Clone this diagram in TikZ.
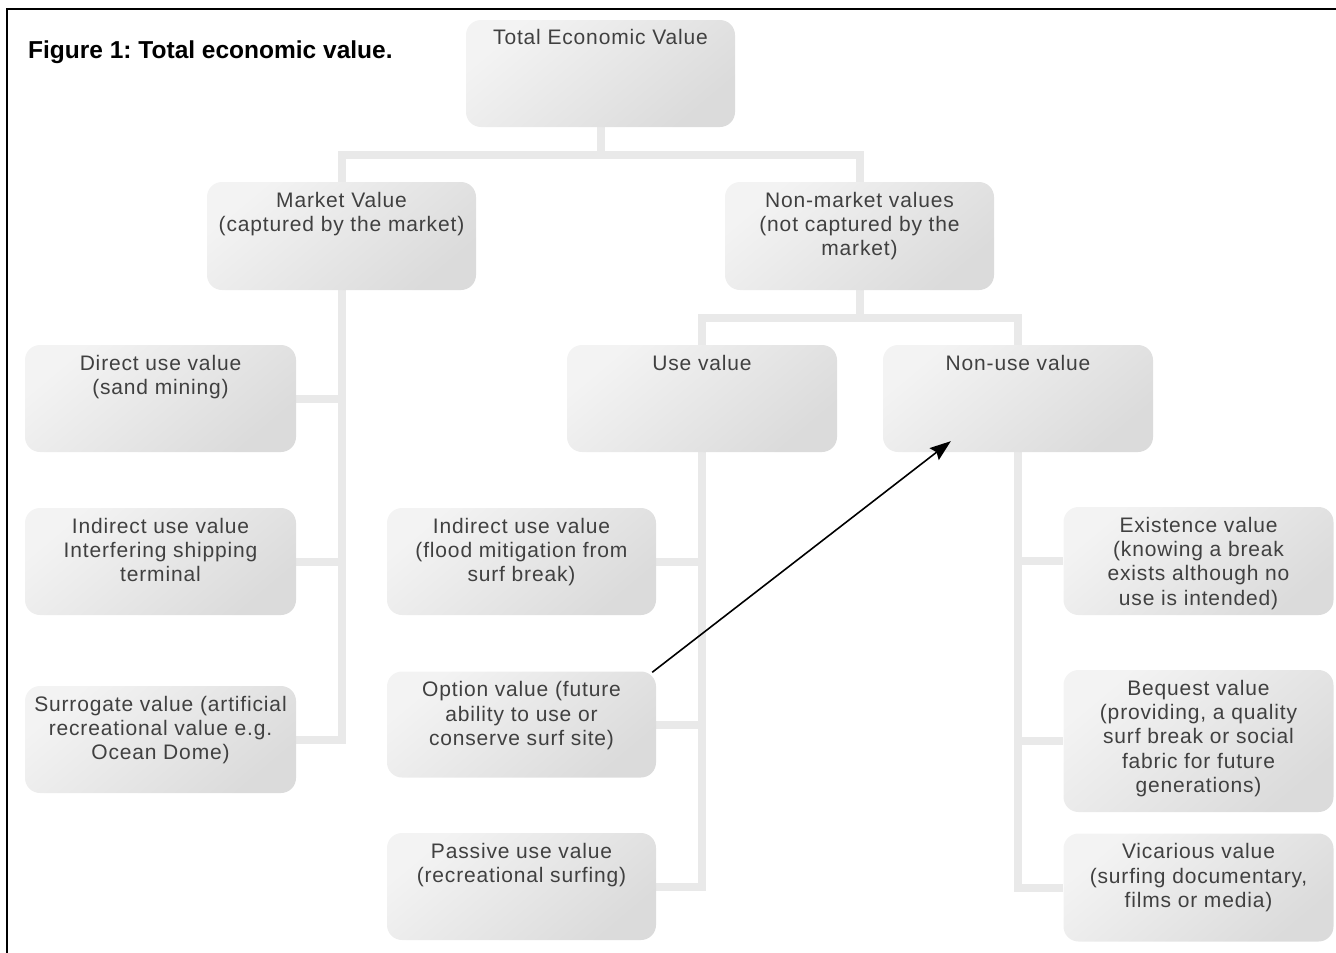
\documentclass[tikz,border=0pt]{standalone}
\usepackage{fontspec}
\setmainfont{Liberation Sans}
\newfontfamily\boxfont[LetterSpace=4]{Liberation Sans}
\usetikzlibrary{backgrounds,calc,arrows.meta}
\definecolor{txtgray}{HTML}{404040}
\definecolor{linegray}{HTML}{E9E9E9}
\definecolor{boxlight}{HTML}{F3F3F3}
\definecolor{boxdark}{HTML}{DBDBDB}
\tikzset{
  box/.style={rectangle, rounded corners=15pt, draw=none,
    top color=boxlight, bottom color=boxdark, shading angle=40,
    minimum width=#1, inner sep=0pt},
  box/.default=270pt,
  boxtext/.style={anchor=north, align=center, inner sep=0pt, text=txtgray,
    font=\boxfont\fontsize{21}{24.3}\selectfont, yshift=-10pt},
  tree/.style={draw=linegray, line width=8pt, line join=miter},
  arr/.style={-{Stealth[length=21pt,width=15pt,inset=3pt]}, line width=1.6pt, black}
}
\frenchspacing
\begin{document}
\begin{tikzpicture}[x=1pt,y=1pt]
\useasboundingbox (0,0) rectangle (1336,-953);
% frame
\draw[line width=2pt] (7,-953) -- (7,-8.5) -- (1336,-8.5);
% title
\node[anchor=west, inner sep=0pt, font=\bfseries\fontsize{24.5}{28}\selectfont] (title) at (28,-52) {Figure 1: Total economic value.};

% boxes
\node[box=269pt, minimum height=107pt] (tev) at (600.5,-73.5) {};
\node[boxtext, yshift=1pt] (tevt) at (tev.north) {Total Economic Value};

\node[box=269pt, minimum height=108pt] (mv) at (341.5,-236) {};
\node[boxtext] (mvt) at (mv.north) {Market Value\\(captured by the market)};

\node[box=269pt, minimum height=108pt] (nmv) at (859.5,-236) {};
\node[boxtext] (nmvt) at (nmv.north) {Non-market values\\(not captured by the\\market)};

\node[box=271pt, minimum height=107pt] (dir) at (160.5,-398.5) {};
\node[boxtext] (dirt) at (dir.north) {Direct use value\\(sand mining)};

\node[box=271pt, minimum height=107pt] (indA) at (160.5,-561.5) {};
\node[boxtext] (indAt) at (indA.north) {Indirect use value\\Interfering shipping\\terminal};

\node[box=271pt, minimum height=107pt] (sur) at (160.5,-739.5) {};
\node[boxtext] (surt) at (sur.north) {Surrogate value (artificial\\recreational value e.g.\\Ocean Dome)};

\node[box=270pt, minimum height=107pt] (use) at (702,-398.5) {};
\node[boxtext] (uset) at (use.north) {Use value};

\node[box=270pt, minimum height=107pt] (nonuse) at (1018,-398.5) {};
\node[boxtext] (nonuset) at (nonuse.north) {Non-use value};

\node[box=269pt, minimum height=107pt] (indB) at (521.5,-561.5) {};
\node[boxtext] (indBt) at (indB.north) {Indirect use value\\(flood mitigation from\\surf break)};

\node[box=269pt, minimum height=106pt] (opt) at (521.5,-724.5) {};
\node[boxtext] (optt) at (opt.north) {Option value (future\\ability to use or\\conserve surf site)};

\node[box=269pt, minimum height=107pt] (pas) at (521.5,-886.5) {};
\node[boxtext] (past) at (pas.north) {Passive use value\\(recreational surfing)};

\node[box=270pt, minimum height=108pt] (exi) at (1198.5,-561) {};
\node[boxtext] (exit) at (exi.north) {Existence value\\(knowing a break\\exists although no\\use is intended)};

\node[box=270pt, minimum height=142pt] (beq) at (1198.5,-741) {};
\node[boxtext] (beqt) at (beq.north) {Bequest value\\(providing, a quality\\surf break or social\\fabric for future\\generations)};

\node[box=270pt, minimum height=108pt] (vic) at (1198.5,-887.5) {};
\node[boxtext] (vict) at (vic.north) {Vicarious value\\(surfing documentary,\\films or media)};

% tree connectors
\begin{scope}[on background layer]
  \coordinate (j1) at ($(tev.south)+(0,-28)$);
  \draw[tree] (tev.south) -- (j1) -| (mv.north);
  \draw[tree] (j1) -| (nmv.north);

  \draw[tree] (mv.south) |- (sur.east);
  \draw[tree] (mv.south |- dir.east) -- (dir.east);
  \draw[tree] (mv.south |- indA.east) -- (indA.east);

  \coordinate (j2) at ($(nmv.south)+(0,-28)$);
  \draw[tree] (nmv.south) -- (j2) -| (use.north);
  \draw[tree] (j2) -| (nonuse.north);

  \draw[tree] (use.south) |- (pas.east);
  \draw[tree] (use.south |- indB.east) -- (indB.east);
  \draw[tree] (use.south |- opt.east) -- (opt.east);

  \draw[tree] (nonuse.south) |- (vic.west);
  \draw[tree] (nonuse.south |- exi.west) -- (exi.west);
  \draw[tree] (nonuse.south |- beq.west) -- (beq.west);
\end{scope}

% arrow
\draw[arr] ($(opt.north east)+(-4,-1)$) -- ($(nonuse.south west)+(68,11)$);
\end{tikzpicture}
\end{document}
